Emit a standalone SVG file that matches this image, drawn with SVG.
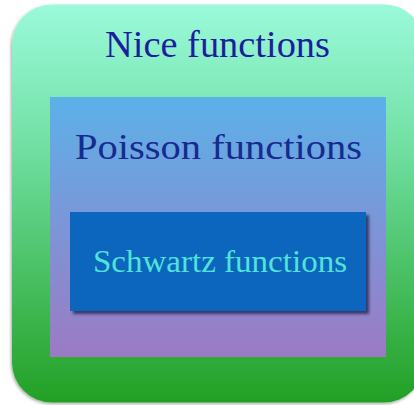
<svg xmlns="http://www.w3.org/2000/svg" width="414" height="405" viewBox="0 0 414 405">
<defs>
<linearGradient id="gOuter" x1="0" y1="0" x2="0" y2="1">
<stop offset="0" stop-color="#9AFADB"/>
<stop offset="0.35" stop-color="#72E0A4"/>
<stop offset="1" stop-color="#22A024"/>
</linearGradient>
<linearGradient id="gMid" x1="0" y1="0" x2="0" y2="1">
<stop offset="0" stop-color="#5CB1E9"/>
<stop offset="1" stop-color="#9C7AC4"/>
</linearGradient>
<filter id="shOuter" x="-10%" y="-10%" width="120%" height="120%">
<feDropShadow dx="-1" dy="1.5" stdDeviation="1.5" flood-color="#000" flood-opacity="0.35"/>
</filter>
<filter id="shInner" x="-10%" y="-10%" width="120%" height="130%">
<feDropShadow dx="3" dy="3" stdDeviation="1.5" flood-color="#2A2A55" flood-opacity="0.85"/>
</filter>
</defs>
<style>
text { font-family: "Liberation Serif", "DejaVu Serif", serif; text-anchor: middle; }
</style>
<g id="nice">
<rect x="12" y="4.5" width="412" height="398" rx="40" ry="40" fill="url(#gOuter)" filter="url(#shOuter)"/>
<text x="217.5" y="57" font-size="37" fill="#1D1E9E" textLength="225" lengthAdjust="spacingAndGlyphs">Nice functions</text>
</g>
<g id="poisson">
<rect x="50" y="97" width="336" height="260" fill="url(#gMid)"/>
<text x="218.5" y="159" font-size="36" fill="#172A8E" textLength="287" lengthAdjust="spacingAndGlyphs">Poisson functions</text>
</g>
<g id="schwartz">
<rect x="70" y="212" width="296" height="99" fill="#0E66BD" filter="url(#shInner)"/>
<text x="220" y="272" font-size="31" fill="#4FE3DA" textLength="254" lengthAdjust="spacingAndGlyphs">Schwartz functions</text>
</g>
<g id="connectors"/>
</svg>
